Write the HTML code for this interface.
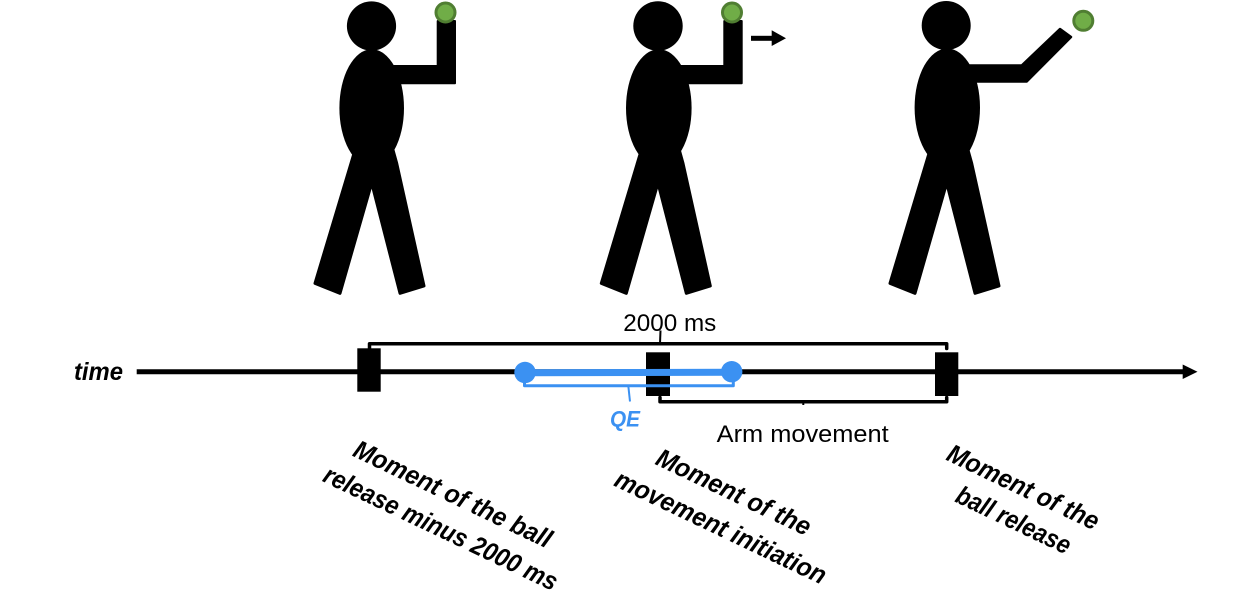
<!DOCTYPE html>
<html>
<head>
<meta charset="utf-8">
<style>
  html, body { margin:0; padding:0; background:#fff; }
  body { width:1241px; height:597px; overflow:hidden; }
  svg { display:block; }
  .sans { font-family: "Liberation Sans", "DejaVu Sans", sans-serif; }
  .bi { font-family: "Liberation Sans", "DejaVu Sans", sans-serif; font-weight:bold; font-style:italic; }
</style>
</head>
<body>
<svg width="1241" height="597" viewBox="0 0 1241 597" xmlns="http://www.w3.org/2000/svg">
  <rect width="1241" height="597" fill="#fff"/>

  <!-- Figure 1 -->
  <g id="fig1">
    <polygon points="355,150 315,283.3 340,293.3 371.7,183 400,293.3 424,286 396.7,163.3 393,150" fill="#000" stroke="#000" stroke-width="3" stroke-linejoin="round"/>
    <ellipse cx="371.7" cy="108" rx="32.3" ry="58.7" fill="#000"/>
    <circle cx="371.5" cy="26" r="24.6" fill="#000"/>
    <polygon points="390,66 437.7,66 437.7,21 455,21 455,83.3 390,83.3" fill="#000" stroke="#000" stroke-width="2" stroke-linejoin="round"/>
    <circle cx="445.5" cy="12.5" r="9.5" fill="#70AD47" stroke="#507E32" stroke-width="3"/>
  </g>

  <!-- Figure 2 -->
  <g id="fig2">
    <polygon points="641.3,150 601.3,283.3 626.3,293.3 658,183 686.3,293.3 710.3,286 683,163.3 679.3,150" fill="#000" stroke="#000" stroke-width="3" stroke-linejoin="round"/>
    <ellipse cx="658.8" cy="108" rx="32.8" ry="58.7" fill="#000"/>
    <circle cx="658" cy="26" r="24.7" fill="#000"/>
    <polygon points="678,66 724.3,66 724.3,21 741.7,21 741.7,83.3 678,83.3" fill="#000" stroke="#000" stroke-width="2" stroke-linejoin="round"/>
    <circle cx="732" cy="12.5" r="9.5" fill="#70AD47" stroke="#507E32" stroke-width="3"/>
    <rect x="751" y="35.8" width="21.5" height="5" fill="#000"/>
    <polygon points="771.7,30.3 786,38.3 771.7,46" fill="#000"/>
  </g>

  <!-- Figure 3 -->
  <g id="fig3">
    <polygon points="930,150 890,283.3 915,293.3 946.7,183 975,293.3 999,286 971.7,163.3 968,150" fill="#000" stroke="#000" stroke-width="3" stroke-linejoin="round"/>
    <ellipse cx="947.3" cy="107.5" rx="32.7" ry="59" fill="#000"/>
    <circle cx="946.2" cy="25.5" r="24.5" fill="#000"/>
    <polygon points="968,65.5 1021.7,65.5 1060,29 1071,37 1026.7,81.5 968,81.5" fill="#000" stroke="#000" stroke-width="2.5" stroke-linejoin="round"/>
    <circle cx="1083.3" cy="20.8" r="9.5" fill="#70AD47" stroke="#507E32" stroke-width="3"/>
  </g>

  <!-- Timeline -->
  <line x1="136.7" y1="371.7" x2="1186" y2="371.7" stroke="#000" stroke-width="5"/>
  <polygon points="1182.7,364.5 1197.5,371.7 1182.7,379" fill="#000"/>

  <!-- 2000 ms bracket -->
  <path d="M369.5,348.5 L369.5,343.7 L946.7,343.7 L946.7,348.5" fill="none" stroke="#000" stroke-width="3.5" stroke-linejoin="round" stroke-linecap="round"/>
  <line x1="660" y1="343.7" x2="660.5" y2="330.5" stroke="#000" stroke-width="2"/>

  <!-- Boxes -->
  <rect x="357.3" y="348.3" width="23.4" height="43.4" fill="#000"/>
  <rect x="646" y="352.3" width="24" height="43.7" fill="#000"/>
  <rect x="935" y="352.3" width="23.3" height="43.7" fill="#000"/>

  <!-- Arm movement bracket -->
  <path d="M660,397.5 L660,401.7 L946.7,401.7 L946.7,397.5" fill="none" stroke="#000" stroke-width="3.5" stroke-linejoin="round" stroke-linecap="round"/>
  <line x1="803.3" y1="401.7" x2="803.3" y2="405" stroke="#000" stroke-width="2"/>

  <!-- QE -->
  <line x1="525" y1="372.8" x2="731.7" y2="372.2" stroke="#3B91F2" stroke-width="7"/>
  <circle cx="525" cy="372.5" r="10.7" fill="#3B91F2"/>
  <circle cx="731.7" cy="371.7" r="10.7" fill="#3B91F2"/>
  <path d="M524.5,381.5 L524.5,385.8 L733.3,385.8 L733.3,381.5" fill="none" stroke="#3B91F2" stroke-width="3" stroke-linejoin="round" stroke-linecap="round"/>
  <line x1="628.3" y1="385.8" x2="630" y2="401.5" stroke="#3B91F2" stroke-width="2"/>

  <!-- Labels -->
  <text class="bi" x="74" y="380" font-size="25" textLength="49" lengthAdjust="spacingAndGlyphs" fill="#000">time</text>
  <text class="sans" x="623.3" y="331" font-size="24" textLength="93" lengthAdjust="spacingAndGlyphs" fill="#000">2000 ms</text>
  <text class="sans" x="716.7" y="442" font-size="24" textLength="172" lengthAdjust="spacingAndGlyphs" fill="#000">Arm movement</text>
  <text class="bi" x="610" y="426.5" font-size="22" textLength="30" lengthAdjust="spacingAndGlyphs" fill="#3B91F2">QE</text>

  <g class="bi" font-size="26" fill="#000" text-anchor="middle">
    <text transform="translate(449,502) rotate(25.5)" x="0" y="0" textLength="216" lengthAdjust="spacingAndGlyphs">Moment of the ball</text>
    <text transform="translate(437,536) rotate(25.5)" x="0" y="0" textLength="256" lengthAdjust="spacingAndGlyphs">release minus 2000 ms</text>

    <text transform="translate(730,500) rotate(25.5)" x="0" y="0" textLength="168" lengthAdjust="spacingAndGlyphs">Moment of the</text>
    <text transform="translate(717,535) rotate(25.5)" x="0" y="0" textLength="231" lengthAdjust="spacingAndGlyphs">movement initiation</text>

    <text transform="translate(1019.5,495) rotate(25.5)" x="0" y="0" textLength="165" lengthAdjust="spacingAndGlyphs">Moment of the</text>
    <text transform="translate(1009.8,528) rotate(25.5)" x="0" y="0" textLength="124" lengthAdjust="spacingAndGlyphs">ball release</text>
  </g>
</svg>
</body>
</html>
